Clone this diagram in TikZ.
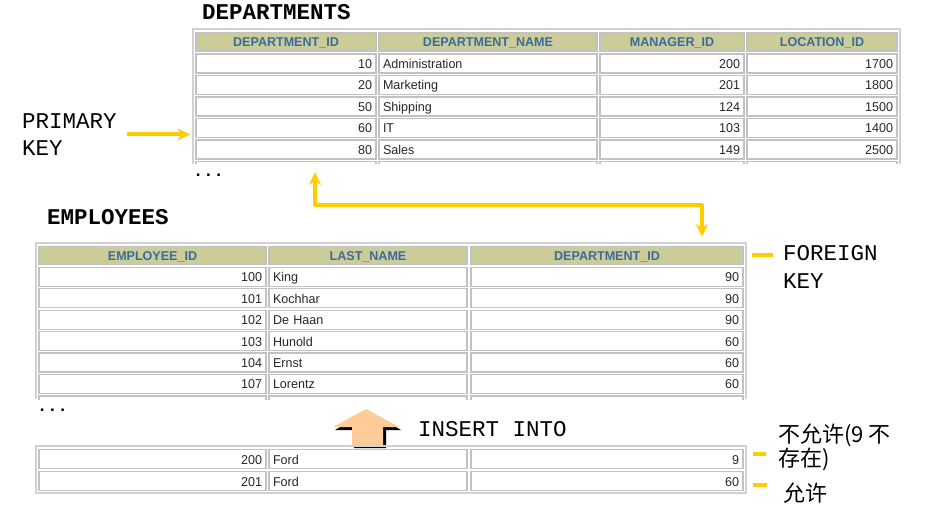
\documentclass[tikz,border=0pt]{standalone}
\usepackage{fontspec}
\setmainfont{Liberation Sans}
\newfontfamily\tabfont[FakeStretch=0.98]{Liberation Sans}
\newfontfamily\keyfont{Liberation Mono}
\newfontfamily\cjkfont{Noto Sans CJK SC}
\usepackage{xcolor}
\usepackage{tikz}
\usetikzlibrary{arrows.meta, positioning, calc}

\definecolor{headfill}{HTML}{CCCC99}
\definecolor{headtext}{HTML}{3A6B9E}
\definecolor{keyyellow}{HTML}{FFCC00}
\definecolor{insfill}{HTML}{FFCC99}

\tikzset{
  cell/.style={draw=black!24, line width=1.3pt, minimum height=19pt, inner xsep=4pt, inner ysep=0pt,
    text height=10pt, text depth=0pt, font=\tabfont\fontsize{12.8}{14}\selectfont, text=black!85},
  numcell/.style={cell, align=right},
  txtcell/.style={cell, align=left},
  headcell/.style={cell, fill=headfill, minimum height=18pt, font=\tabfont\bfseries\fontsize{12.8}{14}\selectfont, text=headtext},
  celledge/.style={draw=black!24, line width=1.3pt},
  tabframe/.style={draw=black!18, line width=1.5pt},
  tabletitle/.style={font=\keyfont\bfseries\fontsize{22.5}{26}\selectfont, anchor=west, inner sep=0pt},
  keytext/.style={font=\keyfont\fontsize{22.5}{27.5}\selectfont, align=left, anchor=west, inner sep=0pt},
  cjktext/.style={font=\cjkfont\fontsize{22}{21}\selectfont, align=left, anchor=west, inner sep=0pt},
  dots/.style={font=\keyfont\bfseries\fontsize{17}{17}\selectfont, anchor=west, inner sep=0pt},
  keyline/.style={draw=keyyellow, line width=4pt},
  keyarrow/.style={keyline, -{Stealth[length=13pt, width=12pt]}},
  keyboth/.style={keyline, line join=round, {Stealth[length=13pt, width=12pt]}-{Stealth[length=13pt, width=12pt]}},
}

\begin{document}
\begin{tikzpicture}[x=1pt, y=-1pt]
    \useasboundingbox (0,0) rectangle (926,521);

    % departments table
    \node[tabletitle] (depttitle) at (202,12) {DEPARTMENTS};
    \draw[tabframe] (193,164) |- (900,29) -- (900,164);
    \node[headcell, minimum width=180pt] (dh1) at (286,42) {DEPARTMENT\_ID};
    \node[headcell, minimum width=218pt] (dh2) at (488,42) {DEPARTMENT\_NAME};
    \node[headcell, minimum width=144pt] (dh3) at (672,42) {MANAGER\_ID};
    \node[headcell, minimum width=150pt] (dh4) at (822,42) {LOCATION\_ID};
    \foreach \did/\dname/\mgr/\loc [count=\r] in {10/Administration/200/1700, 20/Marketing/201/1800,
        50/Shipping/124/1500, 60/IT/103/1400, 80/Sales/149/2500} {
      \node[numcell, text width=172pt] (d\r-1) at (286,{42+21.5*\r}) {\did};
      \node[txtcell, text width=210pt] (d\r-2) at (488,{42+21.5*\r}) {\dname};
      \node[numcell, text width=136pt] (d\r-3) at (672,{42+21.5*\r}) {\mgr};
      \node[numcell, text width=142pt] (d\r-4) at (822,{42+21.5*\r}) {\loc};
    }
    \begin{scope}
      \clip (190,158) rectangle (905,164);
      \foreach \xa/\xb in {196/376, 379/597, 600/744, 747/897}
        \draw[celledge] (\xa,161.5) rectangle (\xb,180.5);
    \end{scope}
    \node[dots] (ddots) at (193,175) {...};

    \node[keytext] (pk) at (22,134.5) {PRIMARY\\KEY};
    \draw[keyarrow] ([xshift=10pt]pk.east) -- ($(pk.east -| d1-1.west)+(-5,0)$);

    % employees table
    \node[tabletitle] (emptitle) at (47,217) {EMPLOYEES};
    \draw[tabframe] (36,399) |- (746,243) -- (746,399);
    \node[headcell, minimum width=227pt] (eh1) at (152.5,255.5) {EMPLOYEE\_ID};
    \node[headcell, minimum width=198pt] (eh2) at (368,255.5) {LAST\_NAME};
    \node[headcell, minimum width=272pt] (eh3) at (607,255.5) {DEPARTMENT\_ID};
    \foreach \eid/\lname/\dep [count=\r] in {100/King/90, 101/Kochhar/90, 102/De Haan/90,
        103/Hunold/60, 104/Ernst/60, 107/Lorentz/60} {
      \node[numcell, text width=219pt] (e\r-1) at (152.5,{255.5+21.4*\r}) {\eid};
      \node[txtcell, text width=190pt] (e\r-2) at (368,{255.5+21.4*\r}) {\lname};
      \node[numcell, text width=264pt] (e\r-3) at (607,{255.5+21.4*\r}) {\dep};
    }
    \begin{scope}
      \clip (33,393) rectangle (750,399);
      \foreach \xa/\xb in {39/266, 269/467, 471/743}
        \draw[celledge] (\xa,396) rectangle (\xb,415);
    \end{scope}
    \node[dots] (edots) at (37,410) {...};

    \node[keytext] (fk) at (783,267) {FOREIGN\\KEY};
    \draw[keyline] ([xshift=8pt]eh3.east) -- ([xshift=29pt]eh3.east);

    % link between the two key columns
    \coordinate (pkend) at (315,172);
    \coordinate (fkend) at (702,237);
    \draw[keyboth] (pkend) |- ($(fkend)+(0,-32)$) -- (fkend);

    % inserted rows
    \fill[black] (368,411) -- (401,430) -- (386,430) -- (386,448) -- (354,448) -- (354,430) -- (335,430) -- cycle;
    \fill[insfill] (366,409) -- (399,427) -- (383,427) -- (383,445) -- (352,445) -- (352,427) -- (333,427) -- cycle;
    \node[keytext] (ins) at (418,429) {INSERT INTO};

    \draw[tabframe] (36,446) rectangle (746,493);
    \foreach \eid/\lname/\dep [count=\r] in {200/Ford/9, 201/Ford/60} {
      \node[numcell, text width=219pt] (i\r-1) at (152.5,{437+22*\r}) {\eid};
      \node[txtcell, text width=190pt] (i\r-2) at (368,{437+22*\r}) {\lname};
      \node[numcell, text width=264pt] (i\r-3) at (607,{437+22*\r}) {\dep};
    }
    \node[cjktext] (deny) at (778,447) {不允许(9 不\\存在)};
    \node[cjktext] (allow) at (783,493) {允许};
    \draw[keyline] ([xshift=9pt,yshift=5pt]i1-3.east) -- ([xshift=22pt,yshift=5pt]i1-3.east);
    \draw[keyline] ([xshift=9pt,yshift=-4pt]i2-3.east) -- ([xshift=23pt,yshift=-4pt]i2-3.east);

\end{tikzpicture}
\end{document}
